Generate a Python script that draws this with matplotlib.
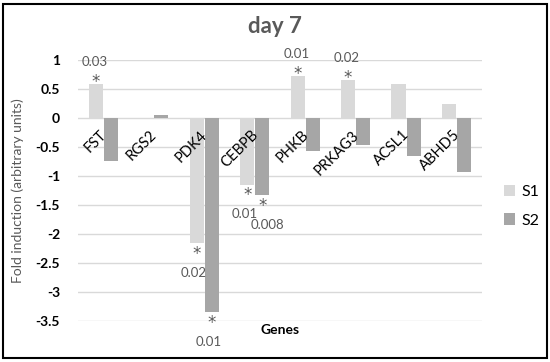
import numpy as np
import matplotlib.pyplot as plt
from matplotlib.patches import Rectangle

plt.rcParams['font.family'] = ['Lato', 'DejaVu Sans']

genes = ['FST', 'RGS2', 'PDK4', 'CEBPB', 'PHKB', 'PRKAG3', 'ACSL1', 'ABHD5']
s1 = [0.58, -0.02, -2.16, -1.15, 0.72, 0.65, 0.58, 0.24]
s2 = [-0.74, 0.05, -3.35, -1.33, -0.57, -0.47, -0.65, -0.93]

# significance marks: (gene index, series, p-value text)
marks = [(0, 1, '0.03'), (2, 1, '0.02'), (2, 2, '0.01'), (3, 1, '0.01'),
         (3, 2, '0.008'), (4, 1, '0.01'), (5, 1, '0.02')]

c1, c2 = '#d9d9d9', '#a6a6a6'
txt = '#595959'

fig = plt.figure(figsize=(5.5, 3.62), dpi=100)
ax = fig.add_axes([0.142, 0.113, 0.734, 0.721])

x = np.arange(len(genes))
w = 0.28
ax.bar(x - 0.15, s1, w, color=c1, label='S1', zorder=2)
ax.bar(x + 0.15, s2, w, color=c2, label='S2', zorder=2)

ax.set_xlim(-0.5, len(genes) - 0.5)
ax.set_ylim(-3.5, 1)
ax.set_yticks([1, 0.5, 0, -0.5, -1, -1.5, -2, -2.5, -3, -3.5])
ax.set_yticklabels(['1', '0.5', '0', '-0.5', '-1', '-1.5', '-2', '-2.5', '-3', '-3.5'],
                   fontweight='bold', fontsize=10)
ax.set_xticks([])
ax.tick_params(axis='y', length=0, pad=13)
ax.grid(axis='y', color='#d9d9d9', linewidth=1, zorder=0)
for s in ax.spines.values():
    s.set_visible(False)

for i, g in enumerate(genes):
    ax.annotate(g, (i - 0.08, 0), xytext=(0, -7), textcoords='offset points',
                rotation=45, ha='right', va='top', rotation_mode='anchor',
                fontsize=10.5, color='black')

for i, ser, p in marks:
    v = (s1 if ser == 1 else s2)[i]
    xpos = i - 0.15 if ser == 1 else i + 0.15
    if v > 0:
        ax.annotate('*', (xpos, v), xytext=(0, -5), textcoords='offset points',
                    ha='center', va='bottom', fontsize=12, color=txt,
                    family='DejaVu Sans')
        ax.annotate(p, (xpos, v), xytext=(-1, 12), textcoords='offset points',
                    ha='center', va='bottom', fontsize=9.5, color=txt)
    else:
        ax.annotate('*', (xpos, v), xytext=(0, -1), textcoords='offset points',
                    ha='center', va='top', fontsize=12, color=txt,
                    family='DejaVu Sans')
        ax.annotate(p, (xpos, v), xytext=(-2 if p != '0.008' else 4, -17),
                    textcoords='offset points',
                    ha='center', va='top', fontsize=9.5, color=txt)

ax.set_ylabel('Fold induction (arbitrary units)', fontsize=10, color=txt, labelpad=8)
ax.set_xlabel('Genes', fontsize=10, fontweight='bold', labelpad=4)
ax.xaxis.set_label_coords(0.5, -0.01)
fig.suptitle('day 7', x=0.5, y=0.955, fontsize=16, fontweight='bold', color=txt)

ax.legend(loc='center left', bbox_to_anchor=(1.02, 0.44), frameon=False,
          fontsize=11.5, handlelength=0.7, handleheight=0.7, labelspacing=0.9,
          handletextpad=0.4)

fig.patches.append(Rectangle((0.006, 0.011), 0.988, 0.978, transform=fig.transFigure,
                             fill=False, edgecolor='black', linewidth=1.5))

fig.savefig('out.png', dpi=100)
